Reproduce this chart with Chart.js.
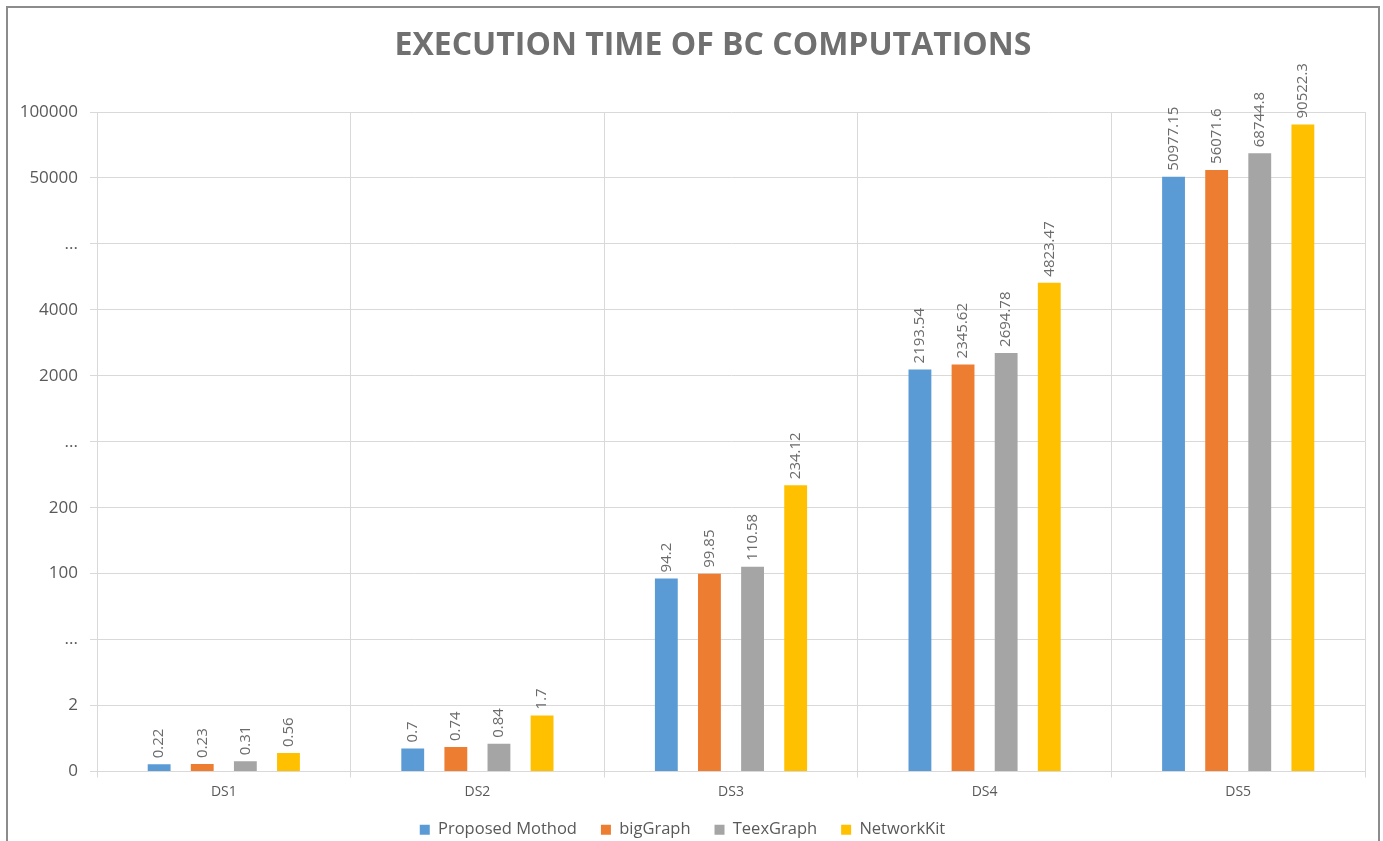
<!DOCTYPE html>
<html>
<head>
<meta charset="utf-8">
<title>Execution time of BC computations</title>
<script src="https://cdn.jsdelivr.net/npm/chart.js@4/dist/chart.umd.min.js"></script>
<style>
  html, body { margin: 0; padding: 0; background: #fff; overflow: hidden; }
  #wrap { position: relative; width: 1383px; height: 841px; }
</style>
</head>
<body>
<div id="wrap"><canvas id="container" width="1383" height="841"></canvas></div>
<script>
var categories = ["DS1", "DS2", "DS3", "DS4", "DS5"];
var proposedMothod = [0.22, 0.7, 94.2, 2193.54, 50977.15];
var bigGraph = [0.23, 0.74, 99.85, 2345.62, 56071.6];
var teexGraph = [0.31, 0.84, 110.58, 2694.78, 68744.8];
var networkKit = [0.56, 1.7, 234.12, 4823.47, 90522.3];

// Broken y axis: every tick gets the same height, values between two ticks are linear
var tickValues = [0, 2, 20, 100, 200, 300, 2000, 4000, 6000, 50000, 100000];
var tickLabels = ["0", "2", "...", "100", "200", "...", "2000", "4000", "...", "50000", "100000"];

var titleText = "EXECUTION TIME OF BC COMPUTATIONS";
var textGray = "#595959";
var gridGray = "#d9d9d9";

// Position of a value in tick steps (0 .. tickValues.length-1)
function toSteps(v)
{
    var n = tickValues.length;
    if (v <= tickValues[0]) return 0;
    for (var i = 0; i < n - 1; i++)
    {
        if (v <= tickValues[i+1])
        {
            return i + (v - tickValues[i]) / (tickValues[i+1] - tickValues[i]);
        }
    }
    return n - 1;
}

function fromSteps(s)
{
    var n = tickValues.length;
    if (s <= 0) return tickValues[0];
    if (s >= n - 1) return tickValues[n-1];
    var i = Math.floor(s);
    return tickValues[i] + (s - i) * (tickValues[i+1] - tickValues[i]);
}

class BrokenScale extends Chart.LinearScale
{
    static id = "broken";
    static defaults = Chart.LinearScale.defaults;

    determineDataLimits()
    {
        this.min = tickValues[0];
        this.max = tickValues[tickValues.length-1];
    }
    buildTicks()
    {
        return tickValues.map(function(v) { return { value: v }; });
    }
    getPixelForValue(value)
    {
        return this.getPixelForDecimal(toSteps(value) / (tickValues.length - 1));
    }
    getValueForPixel(pixel)
    {
        return fromSteps(this.getDecimalForPixel(pixel) * (tickValues.length - 1));
    }
}
Chart.register(BrokenScale);

// Frame round the whole chart, plus the title (sits a bit right of centre)
var framePlugin = {
    id: "frame",
    beforeDraw: function(chart)
    {
        var ctx = chart.ctx;
        ctx.save();
        ctx.fillStyle = "#ffffff";
        ctx.fillRect(0, 0, chart.width, chart.height);
        ctx.strokeStyle = "#8c8c8c";
        ctx.lineWidth = 2;
        ctx.strokeRect(7, 7, chart.width - 11, chart.height + 40);
        ctx.fillStyle = "#707070";
        ctx.font = "bold 32px 'Open Sans'";
        ctx.textAlign = "center";
        ctx.textBaseline = "middle";
        ctx.fillText(titleText, 713, 46);
        ctx.restore();
    }
};

// Rotated value labels above each bar
var valueLabels = {
    id: "valueLabels",
    afterDatasetsDraw: function(chart)
    {
        var ctx = chart.ctx;
        ctx.save();
        ctx.fillStyle = "#6b6b6b";
        ctx.font = "15px 'Open Sans'";
        ctx.textAlign = "left";
        ctx.textBaseline = "middle";
        chart.data.datasets.forEach(function(ds, d)
        {
            chart.getDatasetMeta(d).data.forEach(function(bar, i)
            {
                ctx.save();
                ctx.translate(bar.x, bar.y - 6);
                ctx.rotate(-Math.PI / 2);
                ctx.fillText(String(ds.data[i]), 0, 0);
                ctx.restore();
            });
        });
        ctx.restore();
    }
};

var container = document.getElementById("container").getContext("2d");
var mychart = new Chart(container, {
    type: "bar",
    data: {
        labels: categories,
        datasets: [
            { label: "Proposed Mothod", data: proposedMothod, backgroundColor: "#5b9bd5" },
            { label: "bigGraph", data: bigGraph, backgroundColor: "#ed7d31" },
            { label: "TeexGraph", data: teexGraph, backgroundColor: "#a5a5a5" },
            { label: "NetworkKit", data: networkKit, backgroundColor: "#ffc000" },
        ],
    },
    options: {
        responsive: false,
        animation: false,
        layout: { padding: { left: 0, right: 18, top: 112, bottom: -7 } },
        datasets: { bar: { categoryPercentage: 0.68, barPercentage: 0.53 } },
        plugins: {
            title: { display: false },
            legend: {
                position: "bottom",
                labels: {
                    color: textGray,
                    font: { family: "'Open Sans'", size: 16.5 },
                    boxWidth: 10,
                    boxHeight: 10,
                    padding: 24,
                },
            },
            tooltip: { enabled: false },
        },
        scales: {
            x: {
                grid: { color: gridGray, tickLength: 6, offset: true },
                border: { color: gridGray },
                ticks: { color: textGray, font: { family: "'Open Sans'", size: 14 }, padding: 6 },
                afterFit: function(scale) { scale.height = 26; },
            },
            y: {
                type: "broken",
                grid: { color: gridGray, tickLength: 7 },
                border: { color: gridGray },
                ticks: {
                    color: textGray,
                    font: { family: "'Open Sans'", size: 17 },
                    padding: 12,
                    autoSkip: false,
                    callback: function(value, index) { return tickLabels[index]; },
                },
                afterFit: function(scale) { scale.width = 97; },
            },
        },
    },
    plugins: [framePlugin, valueLabels],
});
</script>
</body>
</html>
